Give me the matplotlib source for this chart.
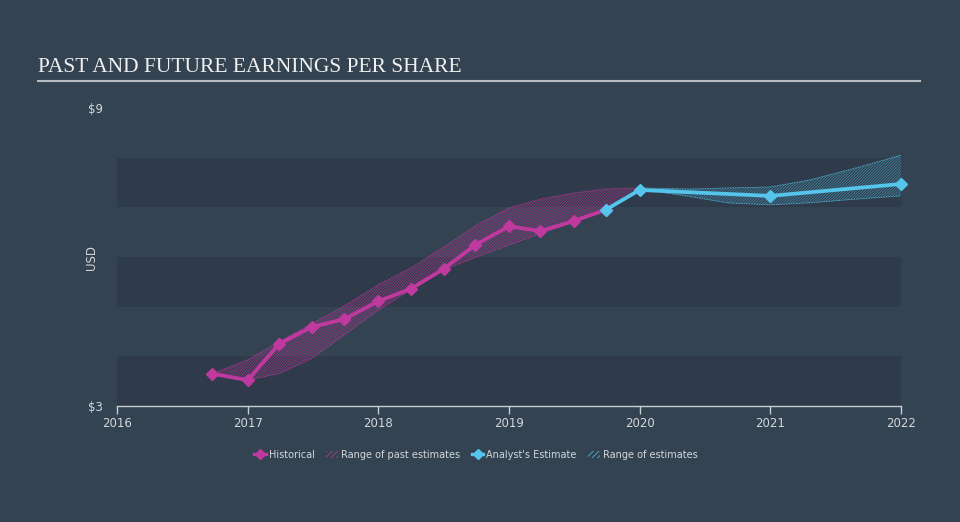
import matplotlib.pyplot as plt
from matplotlib.lines import Line2D
from matplotlib.patches import Patch

# Historical EPS (quarterly)
hist_x = [2016.73, 2017.0, 2017.24, 2017.49, 2017.74, 2018.0, 2018.25, 2018.5,
          2018.74, 2019.0, 2019.24, 2019.5, 2019.74]
hist_y = [3.65, 3.52, 4.25, 4.59, 4.75, 5.11, 5.36, 5.76, 6.24, 6.62, 6.52, 6.73, 6.95]

# Range of past estimates
past_x = [2016.73, 2017.0, 2017.25, 2017.5, 2017.75, 2018.0, 2018.25, 2018.5,
          2018.75, 2019.0, 2019.25, 2019.5, 2019.75, 2020.0]
past_hi = [3.65, 3.93, 4.31, 4.67, 5.03, 5.44, 5.78, 6.20, 6.64, 6.99, 7.17, 7.29, 7.37, 7.39]
past_lo = [3.65, 3.52, 3.66, 3.97, 4.45, 4.93, 5.34, 5.74, 6.00, 6.24, 6.48, 6.70, 6.95, 7.35]

# Analyst estimate
fc_x = [2019.74, 2020.0, 2021.0, 2022.0]
fc_y = [6.95, 7.35, 7.23, 7.47]

# Range of estimates
rng_x = [2020.0, 2020.4, 2020.67, 2021.0, 2021.3, 2021.68, 2022.0]
rng_hi = [7.39, 7.37, 7.39, 7.41, 7.55, 7.81, 8.05]
rng_lo = [7.37, 7.21, 7.09, 7.05, 7.09, 7.17, 7.23]

years = [2016, 2017, 2018, 2019, 2020, 2021, 2022]

BG = '#344352'
BAND = '#2f3b4a'
TXT = '#d3d7db'
MAG = '#c0399e'
CYAN = '#55c5ec'
HATCH = '/' * 12

plt.rcParams['hatch.linewidth'] = 0.5

fig = plt.figure(figsize=(9.6, 5.22), dpi=100, facecolor=BG)
ax = fig.add_axes([117 / 960, 116 / 522, 784 / 960, 298 / 522])
ax.set_facecolor(BG)

for lo in [3, 5, 7]:
    ax.axhspan(lo, lo + 1, color=BAND, lw=0, zorder=0)

# past range
ax.fill_between(past_x, past_lo, past_hi, facecolor='none', edgecolor=MAG,
                hatch=HATCH, lw=0, alpha=0.75, zorder=1)
ax.plot(past_x, past_hi, color=MAG, lw=0.6, ls=(0, (2, 1)), alpha=0.8, zorder=1)
ax.plot(past_x, past_lo, color=MAG, lw=0.6, ls=(0, (2, 1)), alpha=0.8, zorder=1)

# future range
ax.fill_between(rng_x, rng_lo, rng_hi, facecolor='none', edgecolor=CYAN,
                hatch=HATCH, lw=0, alpha=0.6, zorder=1)
ax.plot(rng_x, rng_hi, color=CYAN, lw=0.6, ls=(0, (2, 1)), alpha=0.8, zorder=1)
ax.plot(rng_x, rng_lo, color=CYAN, lw=0.6, ls=(0, (2, 1)), alpha=0.8, zorder=1)

ax.plot(hist_x, hist_y, color=MAG, lw=2.7, marker='D', ms=6.3, zorder=3)
ax.plot(fc_x, fc_y, color=CYAN, lw=2.7, marker='D', ms=6.3, zorder=4, clip_on=False)

ax.set_xlim(2016, 2022)
ax.set_ylim(3, 9)
for s in ['top', 'right', 'left']:
    ax.spines[s].set_visible(False)
ax.spines['bottom'].set_color('#c8cdd2')
ax.spines['bottom'].set_linewidth(1)
ax.set_xticks(years)
ax.set_xticklabels([str(y) for y in years])
ax.tick_params(axis='x', colors='#c8cdd2', labelcolor=TXT, labelsize=8.5,
               length=6, width=1, pad=2)
ax.set_yticks([3, 9])
ax.set_yticklabels(['$3', '$9'])
ax.tick_params(axis='y', length=0, labelcolor=TXT, labelsize=8.5, pad=10)
ax.set_ylabel('USD', color=TXT, fontsize=8.5)
ax.yaxis.set_label_coords(-0.024, 0.5)

fig.text(38 / 960, 1 - 67 / 522, 'PAST AND FUTURE EARNINGS PER SHARE',
         family='Liberation Serif', fontsize=15.5, color='#f0f0f0', va='center')
fig.add_artist(Line2D([38 / 960, 920 / 960], [1 - 81 / 522, 1 - 81 / 522],
                      color='#b8bcc2', lw=1.5))

handles = [
    Line2D([], [], color=MAG, lw=2.4, marker='D', ms=5.5),
    Patch(facecolor='none', edgecolor=MAG, hatch='//////', lw=0),
    Line2D([], [], color=CYAN, lw=2.4, marker='D', ms=5.5),
    Patch(facecolor='none', edgecolor=CYAN, hatch='//////', lw=0),
]
labels = ['Historical', 'Range of past estimates', "Analyst's Estimate", 'Range of estimates']
leg = fig.legend(handles, labels, loc='center', bbox_to_anchor=(476 / 960, 1 - 455 / 522),
                 ncol=4, frameon=False, fontsize=7, labelcolor=TXT,
                 handlelength=1.2, handletextpad=0.3, columnspacing=1.2,
                 handleheight=0.8)

fig.savefig('out.png', dpi=100, facecolor=BG)
